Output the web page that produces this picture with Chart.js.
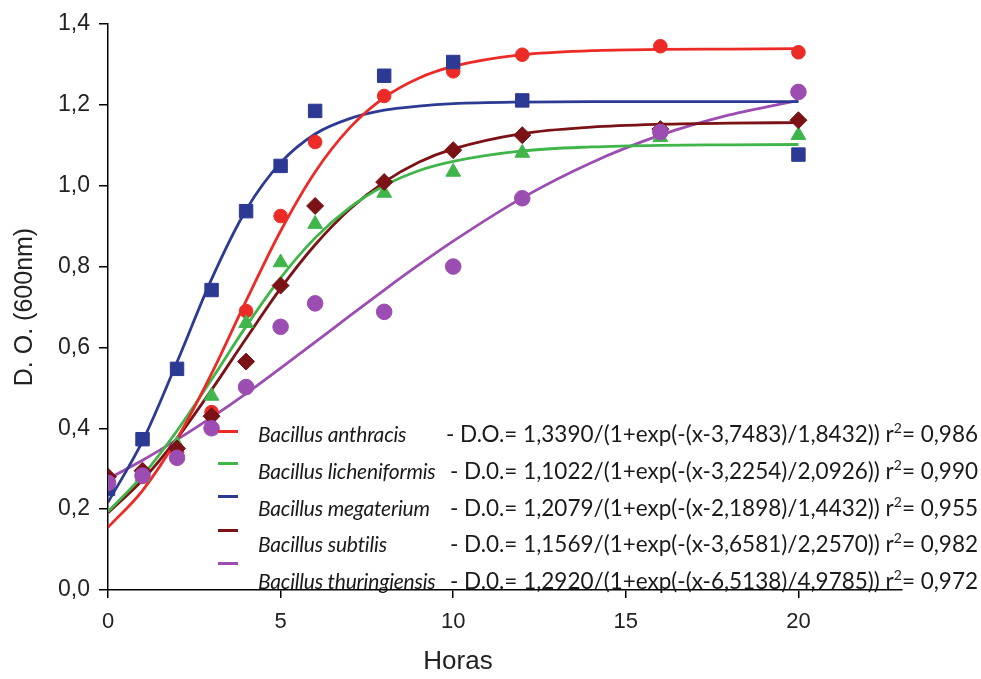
<!DOCTYPE html>
<html>
<head>
<meta charset="utf-8">
<title>D.O. Bacillus</title>
<script src="https://cdn.jsdelivr.net/npm/chart.js@4.4.1/dist/chart.umd.min.js"></script>
<style>
  body { margin: 0; background: #fff; }
  #wrap { position: relative; width: 981px; height: 679px; }
  .row {
    position: absolute; left: 258px; width: 720px; height: 26px;
    display: flex; justify-content: space-between; align-items: center; gap: 6px;
    font-family: Lato, "Open Sans", sans-serif; color: #1a1a1a;
    white-space: nowrap;
  }
  .row i { font-size: 21px; letter-spacing: -0.2px; }
  .row span { font-size: 22.5px; }
  .row sup { font-size: 14px; vertical-align: 9px; line-height: 0; }
  .swatch { position: absolute; left: 218px; width: 20px; height: 3px; }
</style>
</head>
<body>
<div id="wrap">
  <canvas id="chart" width="981" height="679"></canvas>
  <div id="legend"></div>
</div>
<script>
// observed O.D. readings (hours)
const hours = [0, 1, 2, 3, 4, 5, 6, 8, 10, 12, 16, 20];
const anthracisObs     = [0.27, 0.28, 0.34, 0.44, 0.69, 0.925, 1.108, 1.222, 1.283, 1.324, 1.345, 1.33];
const licheniformisObs = [0.26, 0.28, 0.36, 0.48, 0.66, 0.81, 0.905, 0.982, 1.034, 1.081, 1.12, 1.125];
const megateriumObs    = [0.25, 0.373, 0.547, 0.742, 0.937, 1.049, 1.185, 1.272, 1.306, 1.211, null, 1.077];
const subtilisObs      = [0.28, 0.295, 0.35, 0.43, 0.565, 0.753, 0.95, 1.009, 1.088, 1.125, 1.14, 1.162];
const thuringiensisObs = [0.265, 0.283, 0.327, 0.40, 0.502, 0.651, 0.709, 0.688, 0.80, 0.969, 1.133, 1.232];

// fitted curves
const fitHours = [0, 1, 2, 3, 4, 5, 6, 7, 8, 9, 10, 12, 14, 16, 18, 20];
const anthracisFit     = [0.155, 0.246, 0.374, 0.535, 0.715, 0.888, 1.034, 1.143, 1.218, 1.266, 1.295, 1.324, 1.334, 1.337, 1.338, 1.339];
const licheniformisFit = [0.194, 0.283, 0.394, 0.521, 0.652, 0.772, 0.871, 0.946, 1.000, 1.037, 1.060, 1.086, 1.096, 1.100, 1.101, 1.102];
const megateriumFit    = [0.217, 0.368, 0.564, 0.769, 0.940, 1.057, 1.128, 1.166, 1.187, 1.197, 1.203, 1.207, 1.208, 1.208, 1.208, 1.208];
const subtilisFit      = [0.191, 0.272, 0.375, 0.495, 0.622, 0.746, 0.854, 0.942, 1.009, 1.058, 1.091, 1.129, 1.145, 1.152, 1.155, 1.156];
const thuringiensisFit = [0.275, 0.321, 0.372, 0.427, 0.486, 0.549, 0.613, 0.678, 0.742, 0.804, 0.863, 0.970, 1.057, 1.125, 1.175, 1.211];

const names    = ["Bacillus anthracis", "Bacillus licheniformis", "Bacillus megaterium", "Bacillus subtilis", "Bacillus thuringiensis"];
const formulas = [
  "- D.O.= 1,3390/(1+exp(-(x-3,7483)/1,8432)) r|= 0,986",
  "- D.0.= 1,1022/(1+exp(-(x-3,2254)/2,0926)) r|= 0,990",
  "- D.0.= 1,2079/(1+exp(-(x-2,1898)/1,4432)) r|= 0,955",
  "- D.0.= 1,1569/(1+exp(-(x-3,6581)/2,2570)) r|= 0,982",
  "- D.0.= 1,2920/(1+exp(-(x-6,5138)/4,9785)) r|= 0,972"
];
const colors  = ["#ec2a26", "#3fb54a", "#2d3a94", "#7a1216", "#9c4db2"];
const markers = ["circle", "triangle", "rect", "rectRot", "circle"];
const sizes   = [6.8, 8.5, 9.5, 8.5, 7.8];

const obs = [anthracisObs, licheniformisObs, megateriumObs, subtilisObs, thuringiensisObs];
const fits = [anthracisFit, licheniformisFit, megateriumFit, subtilisFit, thuringiensisFit];

function toPoints(xs, ys) {
  return xs.map((x, i) => ({ x: x, y: ys[i] })).filter(p => p.y !== null);
}

const datasets = [];
names.forEach((name, i) => {
  datasets.push({
    label: name + " fit",
    data: toPoints(fitHours, fits[i]),
    showLine: true,
    borderColor: colors[i],
    borderWidth: 2.8,
    pointRadius: 0,
    cubicInterpolationMode: "monotone",
    order: 10 + i
  });
  datasets.push({
    label: name,
    data: toPoints(hours, obs[i]),
    showLine: false,
    pointStyle: markers[i],
    pointRadius: sizes[i],
    pointBackgroundColor: colors[i],
    pointBorderColor: colors[i],
    pointBorderWidth: 1,
    order: 4 - i
  });
});

const fontFamily = "'Liberation Sans', Arial, sans-serif";

// x axis title sits under the "10" tick in the original, not at the axis centre
const xTitle = {
  id: "xTitle",
  afterDraw(chart) {
    const ctx = chart.ctx;
    ctx.save();
    ctx.font = "26px " + fontFamily;
    ctx.fillStyle = "#222";
    ctx.textAlign = "center";
    ctx.textBaseline = "middle";
    ctx.fillText("Horas", 458, 662);
    ctx.restore();
  }
};

new Chart(document.getElementById("chart"), {
  type: "scatter",
  data: { datasets: datasets },
  plugins: [xTitle],
  options: {
    responsive: false,
    animation: false,
    devicePixelRatio: 1,
    layout: { padding: { top: 24, right: 79, left: 0, bottom: 0 } },
    plugins: { legend: { display: false }, tooltip: { enabled: false } },
    scales: {
      x: {
        type: "linear", min: 0, max: 23,
        ticks: { stepSize: 5, includeBounds: false, font: { family: fontFamily, size: 22 }, color: "#222", padding: 11,
                 callback: v => String(v) },
        grid: { drawOnChartArea: false, tickLength: 8, color: "#000", lineWidth: 1.5 },
        border: { color: "#000", width: 1.5 },
        afterFit: s => { s.height = 89; }
      },
      y: {
        min: 0, max: 1.4,
        ticks: { stepSize: 0.2, font: { family: fontFamily, size: 23 }, color: "#222", padding: 9,
                 callback: v => v.toFixed(1).replace(".", ",") },
        grid: { drawOnChartArea: false, tickLength: 9, color: "#000", lineWidth: 1.5 },
        border: { color: "#000", width: 1.5 },
        title: { display: true, text: "D. O. (600nm)", color: "#222",
                 font: { family: fontFamily, size: 25 },
                 padding: { top: 10, bottom: 0 } },
        afterFit: s => { s.width = 108; }
      }
    }
  }
});

// legend overlay: line swatches plus species name and fitted equation
const legend = document.getElementById("legend");
const rowCenters = [433, 470, 507, 543, 580];
const swatchCenters = [431, 463, 496, 530, 563];
names.forEach((name, i) => {
  const sw = document.createElement("div");
  sw.className = "swatch";
  sw.style.top = (swatchCenters[i] - 1.5) + "px";
  sw.style.background = colors[i];
  legend.appendChild(sw);

  const row = document.createElement("div");
  row.className = "row";
  row.style.top = (rowCenters[i] - 13) + "px";
  const left = document.createElement("i");
  left.textContent = name;
  const right = document.createElement("span");
  const parts = formulas[i].split("|");
  right.appendChild(document.createTextNode(parts[0]));
  const sup = document.createElement("sup");
  sup.textContent = "2";
  right.appendChild(sup);
  right.appendChild(document.createTextNode(parts[1]));
  row.appendChild(left);
  row.appendChild(right);
  legend.appendChild(row);
});
</script>
</body>
</html>
